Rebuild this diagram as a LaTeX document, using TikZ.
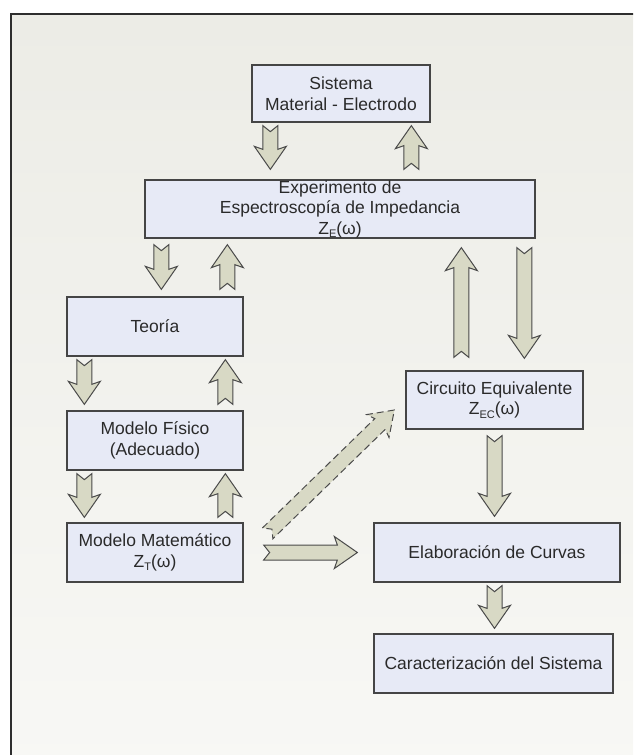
\documentclass[tikz,border=0pt]{standalone}
\usepackage{fontspec}
\setmainfont{Liberation Sans}
\usetikzlibrary{calc}
\definecolor{boxfill}{HTML}{E7EAF6}
\definecolor{boxline}{HTML}{454545}
\definecolor{arrfill}{HTML}{D8D9C5}
\definecolor{arrline}{HTML}{4A4A4A}
\definecolor{bgtop}{HTML}{ECECE6}
\definecolor{bgbot}{HTML}{F8F8F5}
\definecolor{framecol}{HTML}{2E2E2E}
\definecolor{txtcol}{HTML}{2A2A2A}
\newcommand\sbt[1]{\raisebox{-0.35ex}{\fontsize{11}{11}\selectfont #1}}
\newcommand\blockarr[3][]{%
  \coordinate (bA) at (#2);
  \coordinate (bB) at (#3);
  \coordinate (bC) at ($(bB)!20pt!(bA)$);
  \coordinate (bD) at ($(bB)!23pt!(bA)$);
  \coordinate (bN) at ($(bA)!6pt!(bB)$);
  \filldraw[arrstyle,#1] ($(bA)!7.5pt!90:(bB)$) -- ($(bC)!7.5pt!90:(bB)$) -- ($(bD)!16pt!90:(bB)$) -- (bB) -- ($(bD)!16pt!-90:(bB)$) -- ($(bC)!7.5pt!-90:(bB)$) -- ($(bA)!7.5pt!-90:(bB)$) -- (bN) -- cycle;
}
\tikzset{
  box/.style={draw=boxline, line width=1.3pt, fill=boxfill, inner sep=0pt, align=center,
    text=txtcol, font=\fontsize{17.5}{20.5}\selectfont},
  arrstyle/.style={draw=arrline, fill=arrfill, line width=1pt, line join=miter},
  dasharr/.style={dashed, dash pattern=on 7pt off 4pt}
}
\begin{document}
\begin{tikzpicture}[x=1pt,y=-1pt]
\path[use as bounding box] (0,0) rectangle (633,755);
\clip (0,0) rectangle (633,755);
\fill[white] (0,0) rectangle (633,755);
\draw[line width=2.2pt, draw=framecol, top color=bgtop, bottom color=bgbot] (11,14) rectangle (650,775);

\node[box, minimum width=178pt, minimum height=57pt] (sis) at (341,93.5) {Sistema\\Material - Electrodo};
\node[box, minimum width=390pt, minimum height=58pt] (exp) at (340,209) {Experimento de\\Espectroscopía de Impedancia\\Z\sbt{E}(ω)};
\node[box, minimum width=176pt, minimum height=59pt] (teo) at (155,326.5) {Teoría};
\node[box, minimum width=176pt, minimum height=59pt] (mfis) at (155,440.5) {Modelo Físico\\(Adecuado)};
\node[box, minimum width=176pt, minimum height=59pt] (mmat) at (155,552.5) {Modelo Matemático\\Z\sbt{T}(ω)};
\node[box, minimum width=177pt, minimum height=58pt] (circ) at (494.5,400) {Circuito Equivalente\\Z\sbt{EC}(ω)};
\node[box, minimum width=246pt, minimum height=59pt] (elab) at (497,552.5) {Elaboración de Curvas};
\node[box, minimum width=239pt, minimum height=59pt] (car) at (493.5,663.5) {Caracterización del Sistema};

% Sistema <-> Experimento
\coordinate (a1t) at ($(sis.south west)+(19,3)$);
\coordinate (a1h) at ($(exp.north west)+(126,-10)$);
\blockarr{a1t}{a1h}
\coordinate (a2t) at ($(exp.north west)+(267,-10)$);
\coordinate (a2h) at ($(sis.south west)+(160,3)$);
\blockarr{a2t}{a2h}
% Experimento <-> Teoria
\coordinate (a3t) at ($(exp.south west)+(17,6)$);
\coordinate (a3h) at ($(teo.north west)+(95,-7)$);
\blockarr{a3t}{a3h}
\coordinate (a4t) at ($(teo.north west)+(161,-7)$);
\coordinate (a4h) at ($(exp.south west)+(83,6)$);
\blockarr{a4t}{a4h}
% Teoria <-> Modelo Fisico
\coordinate (a5t) at ($(teo.south west)+(18,3)$);
\coordinate (a5h) at ($(mfis.north west)+(18,-6)$);
\blockarr{a5t}{a5h}
\coordinate (a6t) at ($(mfis.north west)+(159,-6)$);
\coordinate (a6h) at ($(teo.south west)+(159,3)$);
\blockarr{a6t}{a6h}
% Modelo Fisico <-> Modelo Matematico
\coordinate (a7t) at ($(mfis.south west)+(18,3)$);
\coordinate (a7h) at ($(mmat.north west)+(18,-5)$);
\blockarr{a7t}{a7h}
\coordinate (a8t) at ($(mmat.north west)+(159,-5)$);
\coordinate (a8h) at ($(mfis.south west)+(159,3)$);
\blockarr{a8t}{a8h}
% Experimento <-> Circuito
\coordinate (a9t) at ($(circ.north west)+(56,-13)$);
\coordinate (a9h) at ($(exp.south west)+(317,9)$);
\blockarr{a9t}{a9h}
\coordinate (a10t) at ($(exp.south west)+(380,9)$);
\coordinate (a10h) at ($(circ.north west)+(119,-12)$);
\blockarr{a10t}{a10h}
% Circuito -> Elaboracion
\coordinate (a11t) at ($(circ.south)+(0,6)$);
\coordinate (a11h) at ($(elab.north -| circ.south)+(0,-6)$);
\blockarr{a11t}{a11h}
% Elaboracion -> Caracterizacion
\coordinate (a12t) at ($(elab.south -| circ.south)+(0,3)$);
\coordinate (a12h) at ($(car.north -| circ.south)+(0,-5)$);
\blockarr{a12t}{a12h}
% Modelo Matematico -> Elaboracion
\coordinate (a13t) at ($(mmat.east)+(20,0)$);
\coordinate (a13h) at ($(elab.west)+(-16,0)$);
\blockarr{a13t}{a13h}
% Modelo Matematico -> Circuito (dashed)
\coordinate (a14t) at ($(mmat.north east)+(24,11)$);
\coordinate (a14h) at ($(circ.west)+(-11,10)$);
\blockarr[dasharr]{a14t}{a14h}
\end{tikzpicture}
\end{document}
